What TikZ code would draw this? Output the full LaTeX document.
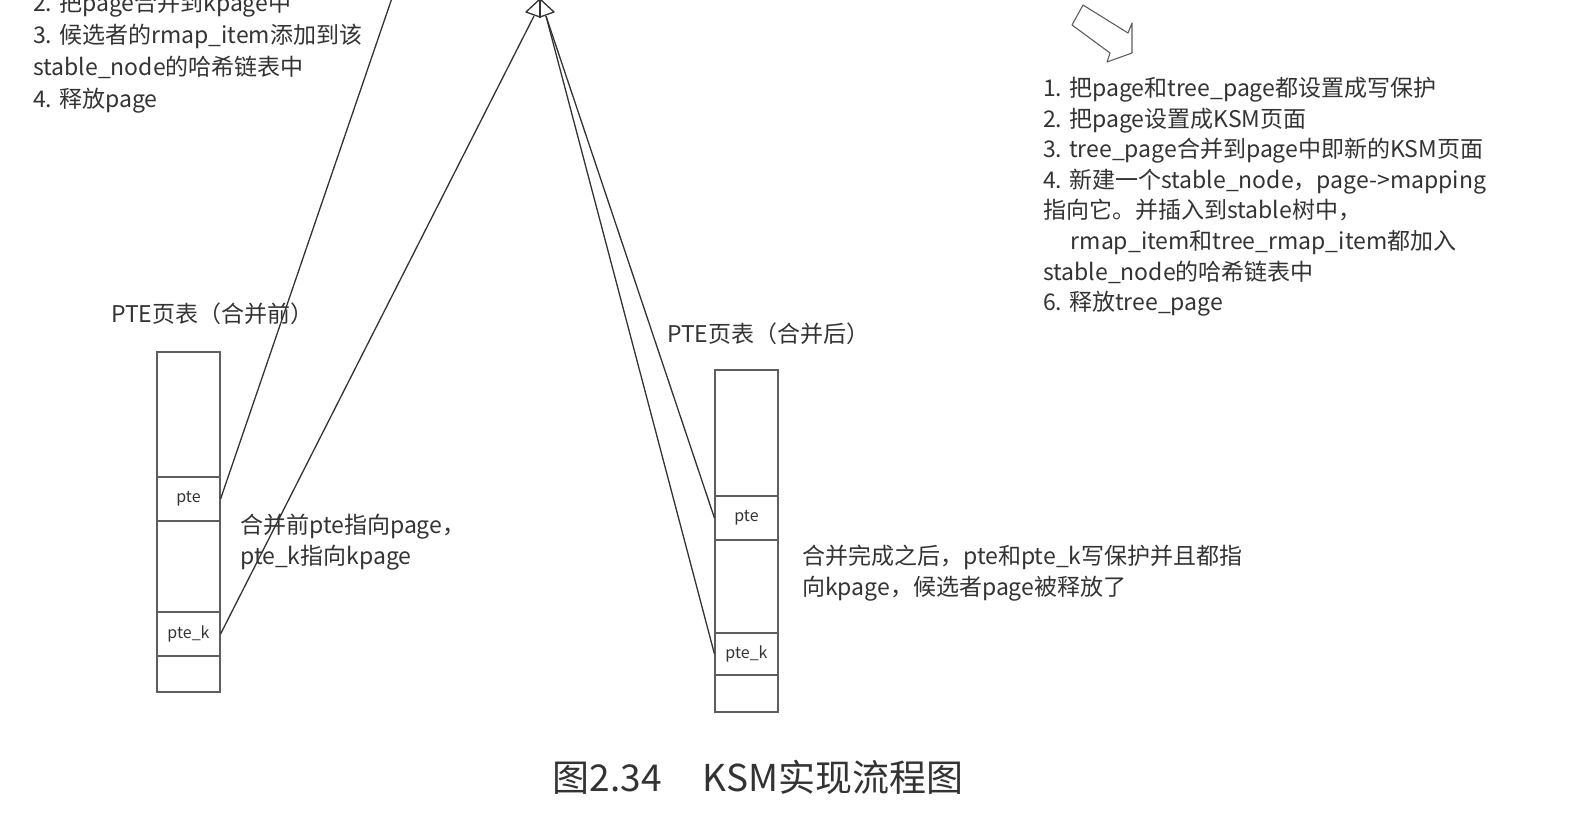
\documentclass[tikz,border=0pt]{standalone}
\usepackage{fontspec}
\setmainfont{Noto Sans CJK SC}
\definecolor{inkgray}{HTML}{333333}
\definecolor{boxgray}{HTML}{5E5E5E}
\tikzset{
  note/.style={font=\fontsize{23}{31}\selectfont, text=inkgray, inner sep=0pt, align=left},
  cell/.style={draw=boxgray, line width=1.1pt, minimum width=63pt, inner sep=0pt,
    font=\fontsize{16}{18}\selectfont, text=inkgray},
  link/.style={draw=inkgray, line width=1.3pt},
}

\begin{document}
\begin{tikzpicture}[x=1pt,y=-1pt]
\useasboundingbox (0,0) rectangle (1578,820);
\clip (0,0) rectangle (1578,820);

% steps for merging into an existing kpage (top cut off)
\node[note, font=\fontsize{23}{32}\selectfont, anchor=north west] (stepsA) at (33,-8) {2. 把page合并到kpage中\\3. 候选者的rmap\_item添加到该\\stable\_node的哈希链表中\\4. 释放page};

% steps for a new KSM page
\node[note, font=\fontsize{23}{30.6}\selectfont, anchor=north west] (stepsB) at (1043,77) {1. 把page和tree\_page都设置成写保护\\2. 把page设置成KSM页面\\3. tree\_page合并到page中即新的KSM页面\\4. 新建一个stable\_node，page->mapping\\指向它。并插入到stable树中，\\\hspace*{1.2em}rmap\_item和tree\_rmap\_item都加入\\stable\_node的哈希链表中\\6. 释放tree\_page};
\draw[boxgray, line width=1.1pt, line join=round] (1083,5) -- (1128,33) -- (1132,23) -- (1132,53) -- (1107,62) -- (1110,53) -- (1072,25) -- cycle;

% page table before merging
\node[note, anchor=base west] (titleA) at (111,322) {PTE页表（合并前）};
\node[cell, minimum height=340pt] (tabA) at (188.5,522) {};
\node[cell, minimum height=44pt] (pteA) at (188.5,499) {pte};
\node[cell, minimum height=44pt] (ptekA) at (188.5,634) {pte\_k};
\node[note, anchor=north west] (noteA) at (240,514) {合并前pte指向page，\\pte\_k指向kpage};

% page table after merging
\node[note, anchor=base west] (titleB) at (667,342) {PTE页表（合并后）};
\node[cell, minimum height=342pt] (tabB) at (746.5,541) {};
\node[cell, minimum height=44pt] (pteB) at (746.5,518) {pte};
\node[cell, minimum height=42pt] (ptekB) at (746.5,654) {pte\_k};
\node[note, anchor=north west] (noteB) at (802,545) {合并完成之后，pte和pte\_k写保护并且都指\\向kpage，候选者page被释放了};

% kpage arrow head
\coordinate (hubL) at (534,16);
\coordinate (hubR) at (546,16);
\coordinate (pageTop) at (392,-2);
\draw[link] (pteA.east) -- (pageTop);
\draw[link] (ptekA.east) -- (hubL);
\draw[link] (pteB.west) -- (hubR);
\draw[link] (ptekB.west) -- (hubR);
\draw[link, fill=white, line join=round] (540,-1) -- (554,12) -- (540,17) -- (526,12) -- cycle;
\draw[link] (540,-1) -- (540,18);

\node[anchor=base, font=\fontsize{37}{42}\selectfont, text=inkgray] (caption) at (758,791) {图2.34\hspace{1.1em}KSM实现流程图};
\end{tikzpicture}
\end{document}
